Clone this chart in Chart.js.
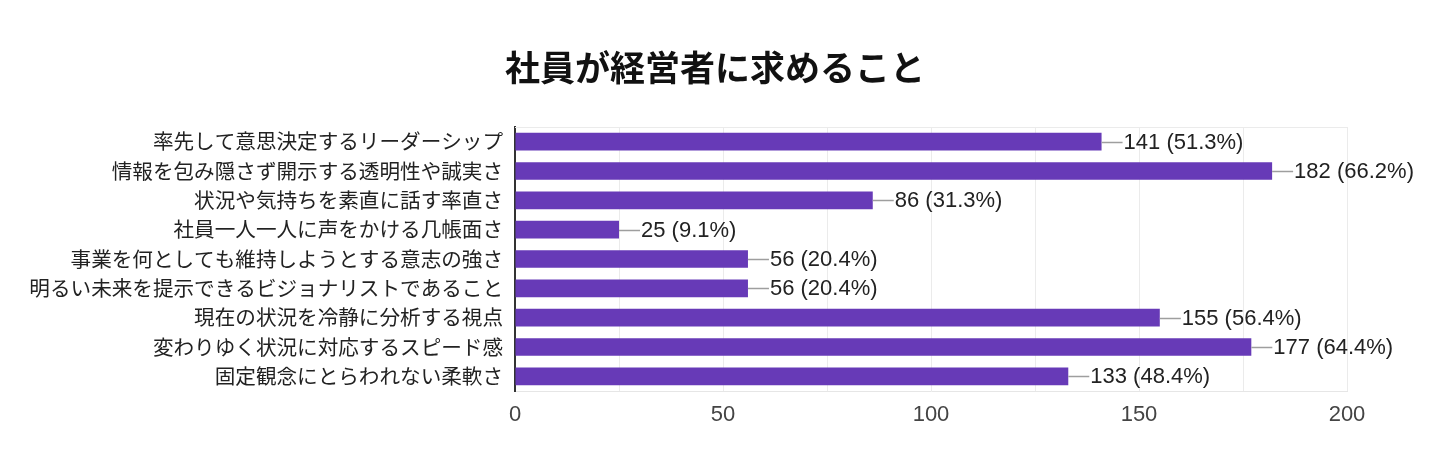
<!DOCTYPE html>
<html>
<head>
<meta charset="utf-8">
<script src="https://cdn.jsdelivr.net/npm/chart.js@4.4.1/dist/chart.umd.min.js"></script>
<style>
  html, body { margin: 0; padding: 0; background: #fff; }
  #wrap { width: 1440px; height: 476px; position: relative; }
</style>
</head>
<body>
<div id="wrap"><canvas id="c"></canvas></div>
<script>
const titleText = "社員が経営者に求めること";
const categories = [
  "率先して意思決定するリーダーシップ",
  "情報を包み隠さず開示する透明性や誠実さ",
  "状況や気持ちを素直に話す率直さ",
  "社員一人一人に声をかける几帳面さ",
  "事業を何としても維持しようとする意志の強さ",
  "明るい未来を提示できるビジョナリストであること",
  "現在の状況を冷静に分析する視点",
  "変わりゆく状況に対応するスピード感",
  "固定観念にとらわれない柔軟さ"
];
const counts = [141, 182, 86, 25, 56, 56, 155, 177, 133];
const percents = ["51.3", "66.2", "31.3", "9.1", "20.4", "20.4", "56.4", "64.4", "48.4"];
const xMin = 0, xMax = 200, gridStep = 25, labelStep = 50;

const titlePlugin = {
  id: 'titlePlugin',
  afterDraw(chart) {
    const {ctx} = chart;
    ctx.save();
    ctx.fillStyle = '#111';
    ctx.font = 'bold 35px "Noto Sans CJK JP", sans-serif';
    ctx.textAlign = 'center';
    ctx.textBaseline = 'middle';
    ctx.fillText(titleText, 715, 68);
    ctx.restore();
  }
};

const frameTop = {
  id: 'frameTop',
  beforeDatasetsDraw(chart) {
    const {ctx, chartArea: a} = chart;
    ctx.save();
    ctx.strokeStyle = '#ebebeb';
    ctx.lineWidth = 1;
    ctx.beginPath();
    ctx.moveTo(a.left, a.top + 0.5);
    ctx.lineTo(a.right, a.top + 0.5);
    ctx.stroke();
    ctx.restore();
  }
};

const valueLabels = {
  id: 'valueLabels',
  afterDatasetsDraw(chart) {
    const {ctx} = chart;
    const meta = chart.getDatasetMeta(0);
    ctx.save();
    meta.data.forEach((bar, i) => {
      const x = bar.x, y = Math.round(bar.y) + 0.5;
      ctx.strokeStyle = '#9e9e9e';
      ctx.lineWidth = 1.5;
      ctx.beginPath();
      ctx.moveTo(x, y);
      ctx.lineTo(x + 21, y);
      ctx.stroke();
      ctx.fillStyle = '#222';
      ctx.font = '22px "Liberation Sans", Arial, sans-serif';
      ctx.textAlign = 'left';
      ctx.textBaseline = 'middle';
      ctx.fillText(counts[i] + ' (' + percents[i] + '%)', x + 22, y);
    });
    ctx.restore();
  }
};

new Chart(document.getElementById('c'), {
  type: 'bar',
  data: {
    labels: categories,
    datasets: [{
      data: counts,
      backgroundColor: '#673ab7',
      borderWidth: 0,
      barPercentage: 0.6,
      categoryPercentage: 1.0
    }]
  },
  options: {
    indexAxis: 'y',
    responsive: true,
    maintainAspectRatio: false,
    animation: false,
    layout: { padding: { left: 0, right: 93, top: 127, bottom: 0 } },
    plugins: {
      legend: { display: false },
      tooltip: { enabled: false },
      title: { display: false }
    },
    scales: {
      x: {
        min: xMin, max: xMax,
        grid: { color: '#ebebeb', lineWidth: 1, drawTicks: false },
        border: { display: true, color: '#e6e6e6', width: 1 },
        ticks: {
          stepSize: gridStep,
          padding: 11,
          color: '#444',
          maxRotation: 0,
          autoSkip: false,
          font: { family: '"Liberation Sans", Arial, sans-serif', size: 22 },
          callback: (v) => (v % labelStep === 0 ? String(v) : '')
        },
        afterFit: (s) => { s.height = 85; }
      },
      y: {
        z: 1,
        grid: { display: false, drawTicks: false },
        border: { display: true, color: '#333', width: 2 },
        ticks: {
          padding: 12,
          color: '#222',
          autoSkip: false,
          font: { family: '"Noto Sans CJK JP", sans-serif', size: 20.6 }
        },
        afterFit: (s) => { s.width = 515; }
      }
    }
  },
  plugins: [titlePlugin, frameTop, valueLabels]
});
</script>
</body>
</html>
